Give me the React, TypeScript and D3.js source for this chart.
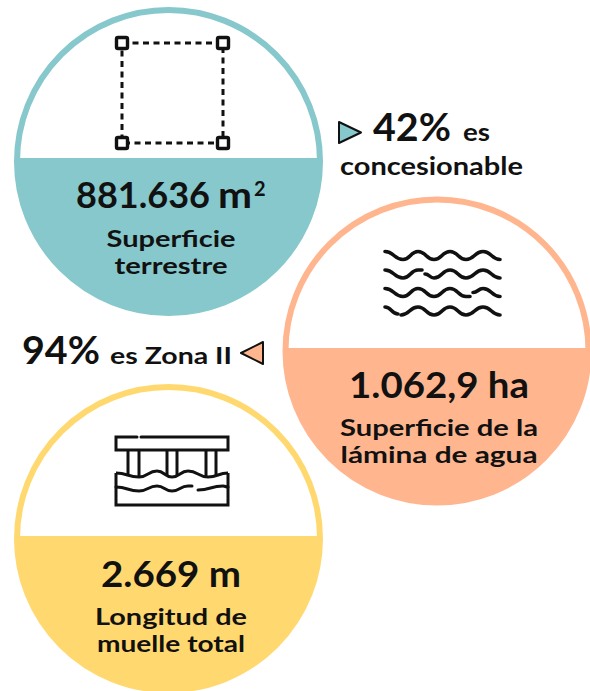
import React from 'react';
import * as d3 from 'd3';

// values
const values = ['881.636 m', '1.062,9 ha', '2.669 m'];
const labels = [['Superficie', 'terrestre'], ['Superficie de la', 'lámina de agua'], ['Longitud de', 'muelle total']];
const labelWidths = [[129, 113], [198, 197], [152, 148]];
const colors = ['#86c8cc', '#ffb68f', '#ffd970'];

// layout of the three circles
const centers = [[168.5, 161.5], [437, 351], [168.5, 538.5]];
const waterLines = [158, 348, 536];
const labelX = [171, 439, 171];
const labelY = [247, 436, 625];
const radius = 151.5;
const font = 'Lato, sans-serif';
const ink = '#111';

// builds the filled bottom part of a circle
function segment(cx: number, cy: number, r: number, lineY: number) {
  const a = Math.asin((lineY - cy) / r);
  const p = d3.path();
  p.arc(cx, cy, r, a, Math.PI - a);
  p.closePath();
  return p.toString();
}

const waveLine = d3.line<number[]>().x(d => d[0]).y(d => d[1]).curve(d3.curveBumpX);

// icon waves as [x, y] stops
const H = -4, L = 4;
const waveFragments = [
  { y: 255.5, pts: [[385, H], [403, L], [418, H], [434, L], [450, H], [466, L], [483, H], [500, L]] },
  { y: 274, pts: [[385, H], [403, L], [418, H], [422, H]] },
  { y: 274, pts: [[425, 0], [434, L], [450, H], [466, L], [483, H], [500, L]] },
  { y: 292.5, pts: [[385, H], [403, L], [418, H], [434, L], [450, H], [466, L], [470, L]] },
  { y: 292.5, pts: [[473, 0], [483, H], [500, L]] },
  { y: 311, pts: [[385, H], [398, 3]] },
  { y: 311, pts: [[401, L], [418, H], [434, L], [450, H], [466, L], [483, H], [500, L]] },
];

const pileX = [128, 139, 167, 177, 206, 216];
const pierTop = [[116, 473], [139, 477], [157, 471], [172, 477], [188, 471], [208, 477], [228, 473]];
const pierMidA = [[116, 487], [139, 491], [157, 486], [172, 491], [188, 486], [192, 486]];
const pierMidB = [[198, 490], [223, 486], [228, 487]];

function Label({ x, y, size, children, anchor = 'middle', width, weight = 700 }: any) {
  return (
    <text x={x} y={y} fontSize={size} fontFamily={font} fontWeight={weight} textAnchor={anchor} fill={ink}
      textLength={width} lengthAdjust={width ? 'spacingAndGlyphs' : undefined}>
      {children}
    </text>
  );
}

function SquareIcon() {
  const corners = [[122, 43], [223, 43], [223, 143], [122, 143]];
  return (
    <g>
      <rect x={122} y={43} width={101} height={100} fill="none" stroke={ink} strokeWidth={3} strokeDasharray="6 4.5" />
      {corners.map((c, i) => (
        <rect key={i} x={c[0] - 5.5} y={c[1] - 5.5} width={11} height={11} rx={1.5} fill="#fff" stroke={ink} strokeWidth={3.4} />
      ))}
    </g>
  );
}

function WaveIcon() {
  return (
    <g fill="none" stroke={ink} strokeWidth={3.6} strokeLinecap="round">
      {waveFragments.map((w, i) => (
        <path key={i} d={waveLine(w.pts.map(p => [p[0], w.y + p[1]])) || ''} />
      ))}
    </g>
  );
}

function PierIcon() {
  return (
    <g fill="none" stroke={ink} strokeWidth={3}>
      <path d="M137 437H116V450H228V437H141" strokeLinecap="round" />
      {pileX.map(x => <line key={x} x1={x} x2={x} y1={450} y2={476} />)}
      <path d={waveLine(pierTop) || ''} />
      <path d={waveLine(pierMidA) || ''} strokeLinecap="round" />
      <path d={waveLine(pierMidB) || ''} strokeLinecap="round" />
      <path d="M116 473V505H228V473" />
    </g>
  );
}

export default function App() {
  return (
    <svg width={590} height={691} style={{ position: 'absolute', left: 0, top: 0 }}>
      <rect width={590} height={691} fill="#fff" />
      {centers.map((c, i) => (
        <g key={i}>
          <path d={segment(c[0], c[1], radius, waterLines[i])} fill={colors[i]} />
          <circle cx={c[0]} cy={c[1]} r={radius} fill="none" stroke={colors[i]} strokeWidth={6} />
        </g>
      ))}

      <SquareIcon />
      <WaveIcon />
      <PierIcon />

      <Label x={76} y={208} size={36} anchor="start" width={134}>{values[0].split(' ')[0]}</Label>
      <Label x={218} y={208} size={36} anchor="start" width={34}>{values[0].split(' ')[1]}</Label>
      <Label x={254} y={196} size={20} anchor="start">2</Label>
      <Label x={439} y={398} size={36} width={180}>{values[1]}</Label>
      <Label x={171} y={587} size={36} width={140}>{values[2]}</Label>

      {labels.map((pair, i) => pair.map((line, j) => (
        <Label key={line} x={labelX[i]} y={labelY[i] + j * 26.5} size={23} width={labelWidths[i][j]}>{line}</Label>
      )))}

      <path d="M339 122L361 132.5L339 143Z" fill={colors[0]} stroke={ink} strokeWidth={2} strokeLinejoin="round" />
      <Label x={373} y={141} size={39} anchor="start" width={78}>42%</Label>
      <Label x={463} y={141} size={24} anchor="start" width={27}>es</Label>
      <Label x={340} y={175} size={24} anchor="start" width={183}>concesionable</Label>

      <Label x={22} y={364} size={39} anchor="start" width={78}>94%</Label>
      <Label x={110} y={364} size={23} anchor="start" width={122}>es Zona II</Label>
      <path d="M263 342L241 353L263 364Z" fill={colors[1]} stroke={ink} strokeWidth={2} strokeLinejoin="round" />
    </svg>
  );
}
